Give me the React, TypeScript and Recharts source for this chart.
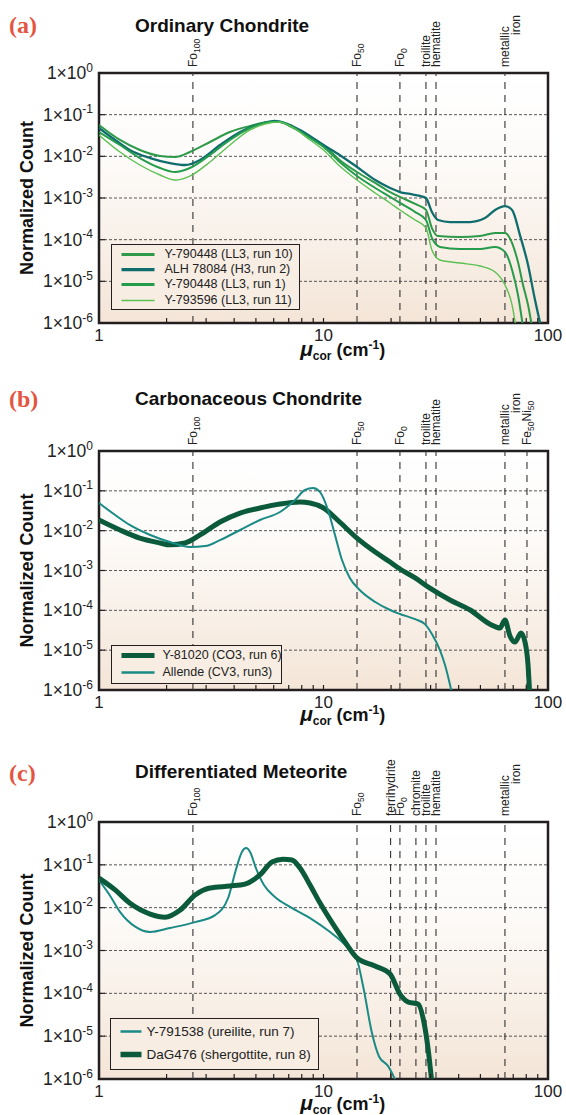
import React from "react";
import {
  LineChart,
  Line,
  XAxis,
  YAxis,
  CartesianGrid,
  ReferenceLine,
  ReferenceArea,
  Legend,
} from "recharts";

type Pt = { x: number; v: number };
const pts = (rows: number[][]): Pt[] => rows.map(([x, v]) => ({ x, v }));

// ---- (a) Ordinary Chondrite ----
const aY790448r10 = pts([
  [1, 5.65e-2], [1.24, 2.47e-2], [1.52, 1.42e-2], [1.87, 1.02e-2], [2.18, 9.6e-3],
  [2.54, 1.27e-2], [3.12, 2.21e-2], [3.83, 3.84e-2], [4.71, 5.35e-2], [5.78, 6.67e-2],
  [6.4, 6.67e-2], [7.09, 5.35e-2], [8.71, 2.91e-2], [10, 1.87e-2], [11.8, 8.2e-3],
  [14.1, 4.2e-3], [17, 2.3e-3], [19.8, 1.39e-3], [21.9, 1.06e-3], [25.6, 7.2e-4],
  [28.6, 5.2e-4], [30.4, 1.9e-4], [32.4, 1.22e-4], [40.5, 1.16e-4], [49.8, 1.22e-4],
  [58.1, 1.45e-4], [64.3, 1.45e-4], [69.2, 8.3e-5], [73.5, 2.9e-5], [77.4, 8.2e-6],
  [81.5, 2.7e-6], [84.9, 8e-7],
]);
const aALH78084 = pts([
  [1, 4.79e-2], [1.18, 2.47e-2], [1.37, 1.42e-2], [1.69, 9.1e-3], [2.07, 6.9e-3],
  [2.42, 6.2e-3], [2.82, 8.2e-3], [3.46, 1.87e-2], [4.25, 3.84e-2], [5.21, 5.97e-2],
  [6.08, 7.05e-2], [6.74, 6.3e-2], [7.86, 4.29e-2], [10, 1.87e-2], [11.8, 1.08e-2],
  [14.1, 5.55e-3], [17, 2.7e-3], [19.8, 1.74e-3], [21.9, 1.39e-3], [24.3, 1.25e-3],
  [26.9, 1.12e-3], [28.6, 1.0e-3], [30.4, 4.6e-4], [32.4, 2.96e-4], [36.6, 2.65e-4],
  [45, 2.65e-4], [52.4, 3.3e-4], [58.1, 5.15e-4], [64.3, 6.4e-4], [69.2, 5.15e-4],
  [75, 1.29e-4], [81.5, 2.47e-5], [87.5, 3.6e-6], [93.1, 8e-7],
]);
const aY790448r1 = pts([
  [1, 3.84e-2], [1.24, 1.87e-2], [1.52, 9.1e-3], [1.87, 5.25e-3], [2.18, 4.2e-3],
  [2.54, 5.25e-3], [3.12, 1.08e-2], [3.83, 2.47e-2], [4.71, 4.79e-2], [5.78, 6.67e-2],
  [6.4, 6.67e-2], [7.09, 5.35e-2], [8.71, 2.75e-2], [10, 1.68e-2], [11.8, 7.3e-3],
  [14.1, 3.37e-3], [17, 1.74e-3], [19.8, 1.06e-3], [21.9, 7.6e-4], [25.6, 4.6e-4],
  [28.6, 2.96e-4], [30.4, 1.1e-4], [33, 6.7e-5], [40.5, 6e-5], [49.8, 6e-5],
  [58.1, 6.7e-5], [64.3, 5.1e-5], [69.2, 1.87e-5], [73.5, 4.7e-6], [77.4, 8e-7],
]);
const aY793596 = pts([
  [1, 3.25e-2], [1.24, 1.27e-2], [1.52, 6.2e-3], [1.87, 3.56e-3], [2.18, 2.7e-3],
  [2.54, 3.37e-3], [3.12, 7.3e-3], [3.83, 1.87e-2], [4.71, 4.29e-2], [5.49, 5.97e-2],
  [6.27, 6.67e-2], [7.09, 5.35e-2], [8.71, 2.47e-2], [10, 1.42e-2], [11.8, 5.86e-3],
  [14.1, 2.7e-3], [17, 1.32e-3], [19.8, 7.6e-4], [21.9, 5.15e-4], [25.6, 2.96e-4],
  [28.6, 1.91e-4], [30.4, 5.65e-5], [33, 3.25e-5], [40.5, 2.75e-5], [49.8, 2.33e-5],
  [58.1, 1.67e-5], [64.3, 8.2e-6], [69.2, 2.7e-6], [72, 8e-7],
]);

// ---- (b) Carbonaceous Chondrite ----
const bY81020 = pts([
  [1, 1.85e-2], [1.24, 1.04e-2], [1.52, 6.5e-3], [1.87, 4.9e-3], [2.07, 4.4e-3],
  [2.42, 4.9e-3], [2.82, 7.8e-3], [3.46, 1.65e-2], [4.25, 2.77e-2], [5.21, 3.7e-2],
  [6.4, 4.67e-2], [7.86, 5.25e-2], [8.71, 4.95e-2], [10, 3.71e-2], [11.8, 1.65e-2],
  [14.1, 6.5e-3], [17, 2.9e-3], [19.8, 1.63e-3], [21.9, 1.09e-3], [25.6, 6.5e-4],
  [29.8, 3.6e-4], [36.6, 1.82e-4], [45, 1.02e-4], [55.2, 4.5e-5], [61.1, 3.6e-5],
  [64.3, 5.7e-5], [67.7, 2.27e-5], [71.3, 1.6e-5], [75.8, 2.7e-5], [79, 1.6e-5],
  [81.5, 4.2e-6], [83.2, 5e-7],
]);
const bAllende = pts([
  [1, 4.95e-2], [1.18, 2.47e-2], [1.37, 1.39e-2], [1.69, 7.8e-3], [2.07, 5.2e-3],
  [2.54, 3.9e-3], [2.97, 4.1e-3], [3.46, 5.8e-3], [4.25, 1.04e-2], [5.21, 1.85e-2],
  [6.4, 2.94e-2], [7.47, 5.9e-2], [8.27, 1.05e-1], [8.98, 1.17e-1], [9.65, 9.3e-2],
  [10.47, 3.3e-2], [11.25, 7.8e-3], [12.09, 1.83e-3], [13.1, 6.5e-4], [14.5, 3.24e-4],
  [17, 1.62e-4], [19.8, 1.02e-4], [21.9, 8.1e-5], [25.6, 6e-5], [28.3, 4.5e-5],
  [30.4, 2.54e-5], [33, 1e-5], [34.8, 4.2e-6], [37.4, 8e-7],
]);

// ---- (c) Differentiated Meteorite ----
const cY791538 = pts([
  [1, 4.4e-2], [1.12, 1.9e-2], [1.24, 8e-3], [1.45, 3.6e-3], [1.69, 2.7e-3],
  [2.07, 3.35e-3], [2.68, 4.6e-3], [3.29, 6.7e-3], [3.76, 1.68e-2], [4.07, 7.6e-2],
  [4.33, 2.0e-1], [4.52, 2.47e-1], [4.71, 2.0e-1], [5.0, 8.4e-2], [5.43, 3.38e-2],
  [6.08, 1.77e-2], [7.09, 1.04e-2], [8.71, 5.7e-3], [10.7, 2.7e-3], [12.5, 1.34e-3],
  [14.1, 6e-4], [15.1, 1.26e-4], [16.4, 1.25e-5], [17.7, 3.3e-6], [19.4, 2e-6],
  [21.2, 8e-7],
]);
const cDaG476 = pts([
  [1, 4.9e-2], [1.18, 2.6e-2], [1.37, 1.28e-2], [1.69, 7.1e-3], [1.97, 6.0e-3],
  [2.3, 8.8e-3], [2.68, 1.98e-2], [3.12, 2.88e-2], [3.83, 3.2e-2], [4.47, 3.56e-2],
  [5.21, 5.8e-2], [5.9, 1.16e-1], [6.6, 1.35e-1], [7.24, 1.3e-1], [7.86, 8.4e-2],
  [8.71, 3.38e-2], [9.65, 1.28e-2], [11.25, 3.5e-3], [12.47, 1.58e-3], [14.1, 6.7e-4],
  [16.96, 4.35e-4], [19.8, 2.83e-4], [21.9, 9.6e-5], [23.8, 6.3e-5], [26.4, 5.6e-5],
  [28, 2.14e-5], [29.2, 5.3e-6], [30.4, 8e-7],
]);

// reference mineral positions (cm-1)
const refsA = [
  { x: 2.62, text: "Fo_{100}" },
  { x: 14.1, text: "Fo_{50}" },
  { x: 21.9, text: "Fo_{0}" },
  { x: 28.6, text: "troilite" },
  { x: 31.7, text: "hematite" },
  { x: 64.3, text: "metallic", text2: "iron" },
];
const refsB = [...refsA, { x: 80.6, text: "Fe_{50}Ni_{50}" }];
const refsC = [
  { x: 2.62, text: "Fo_{100}" },
  { x: 14.1, text: "Fo_{50}" },
  { x: 19.9, text: "ferrihydrite" },
  { x: 21.9, text: "Fo_{0}" },
  { x: 25.8, text: "chromite" },
  { x: 28.6, text: "troilite" },
  { x: 31.7, text: "hematite" },
  { x: 64.3, text: "metallic", text2: "iron" },
];

const xTicks = [1, 2, 3, 4, 5, 6, 7, 8, 9, 10, 20, 30, 40, 50, 60, 70, 80, 90, 100];
const xLabels = [1, 10, 100];
const yTicks = [1, 1e-1, 1e-2, 1e-3, 1e-4, 1e-5, 1e-6];

const FONT = "'Liberation Sans', Arial, Helvetica, sans-serif";
const INK = "#231f20";
const GREEN = "#2c9a48";
const GREEN2 = "#239c4b";
const LIGHT = "#5cc052";
const TEAL = "#0f6e6d";
const TEAL2 = "#1a8a84";
const DARK = "#0b5a3c";

type Series = { name: string; data: Pt[]; color: string; width: number; legendWidth: number };

const panels = [
  {
    key: "a",
    top: 0,
    height: 370,
    margin: { top: 73, right: 18, bottom: 17, left: 0 },
    tag: "(a)",
    title: "Ordinary Chondrite",
    tagTop: 13,
    titleTop: 15,
    xLabelDy: 33,
    refs: refsA,
    series: [
      { name: "Y-790448 (LL3, run 10)", data: aY790448r10, color: GREEN, width: 2, legendWidth: 3 },
      { name: "ALH 78084 (H3, run 2)", data: aALH78084, color: TEAL, width: 2.3, legendWidth: 3.2 },
      { name: "Y-790448 (LL3, run 1)", data: aY790448r1, color: GREEN2, width: 2, legendWidth: 3 },
      { name: "Y-793596 (LL3, run 11)", data: aY793596, color: LIGHT, width: 1.4, legendWidth: 1.5 },
    ] as Series[],
    legend: { left: 111, top: 244, width: 189, height: 66, rowH: 15.2, padTop: 2, l0: 9.5, l1: 42.5, tx: 52.5, fs: 12.5 },
  },
  {
    key: "b",
    top: 370,
    height: 375,
    margin: { top: 81, right: 18, bottom: 25, left: 0 },
    tag: "(b)",
    title: "Carbonaceous Chondrite",
    tagTop: 387,
    titleTop: 388,
    xLabelDy: 31,
    refs: refsB,
    series: [
      { name: "Y-81020 (CO3, run 6)", data: bY81020, color: DARK, width: 5, legendWidth: 5 },
      { name: "Allende (CV3, run3)", data: bAllende, color: TEAL2, width: 2, legendWidth: 2.5 },
    ] as Series[],
    legend: { left: 111, top: 275, width: 171, height: 39, rowH: 17, padTop: 1, l0: 9.5, l1: 42.5, tx: 50.5, fs: 12.5 },
  },
  {
    key: "c",
    top: 745,
    height: 370,
    margin: { top: 77, right: 18, bottom: 6, left: 0 },
    tag: "(c)",
    title: "Differentiated Meteorite",
    tagTop: 761,
    titleTop: 761,
    xLabelDy: 30.5,
    refs: refsC,
    series: [
      { name: "Y-791538 (ureilite, run 7)", data: cY791538, color: TEAL2, width: 2, legendWidth: 2.5 },
      { name: "DaG476 (shergottite, run 8)", data: cDaG476, color: DARK, width: 5, legendWidth: 5.5 },
    ] as Series[],
    legend: { left: 110, top: 273, width: 209, height: 52, rowH: 23, padTop: 1, l0: 9.5, l1: 30.5, tx: 35.5, fs: 13.5 },
  },
];

function richText(s: string, subSize: number) {
  const parts = s.split(/(_\{[^}]*\})/).filter(Boolean);
  let shifted = false;
  return parts.map((p, i) => {
    if (p.startsWith("_{")) {
      shifted = true;
      return (
        <tspan key={i} dy={3} fontSize={subSize}>
          {p.slice(2, -1)}
        </tspan>
      );
    }
    const dy = shifted ? -3 : 0;
    shifted = false;
    return (
      <tspan key={i} dy={dy}>
        {p}
      </tspan>
    );
  });
}

function RefLabel(props: any) {
  const vb = props.viewBox || { x: 0, y: 0 };
  const x = vb.x + 4.5;
  const y = vb.y - 6;
  return (
    <g>
      <text
        transform={`translate(${x},${y}) rotate(-90)`}
        fontSize={12}
        fill="#222"
        fontFamily={FONT}
      >
        {richText(props.text, 8.5)}
      </text>
      {props.text2 && (
        <text
          transform={`translate(${x + 11},${y - 32}) rotate(-90)`}
          fontSize={12}
          fill="#222"
          fontFamily={FONT}
        >
          {props.text2}
        </text>
      )}
    </g>
  );
}

function YTick(props: any) {
  const { x, y, payload } = props;
  const exp = Math.round(Math.log10(payload.value));
  return (
    <g>
      <line x1={x} x2={x + 6} y1={y} y2={y} stroke={INK} strokeWidth={1.2} />
      <text x={x - 6} y={y + 6} textAnchor="end" fontSize={17.5} fill="#222" fontFamily={FONT}>
        1×10
        <tspan dy={-7.5} fontSize={12}>
          {exp}
        </tspan>
      </text>
    </g>
  );
}

function XTick(props: any) {
  const { x, y, payload } = props;
  const v = payload.value;
  const major = xLabels.includes(v);
  return (
    <g>
      {v !== 1 && v !== 100 && (
        <line x1={x} x2={x} y1={y} y2={y - 5} stroke={INK} strokeWidth={1.2} />
      )}
      {major && (
        <text x={x} y={y + 18} textAnchor="middle" fontSize={17} fill="#222" fontFamily={FONT}>
          {v}
        </text>
      )}
    </g>
  );
}

function XLabel(props: any) {
  const vb = props.viewBox || { x: 99, y: 0, width: 449 };
  const x = vb.x + vb.width * 0.448;
  const y = vb.y + props.dyBase;
  return (
    <text x={x} y={y} fontFamily={FONT} fontWeight="bold" fontSize={18} fill="#111">
      <tspan fontStyle="italic" fontSize={21}>
        μ
      </tspan>
      <tspan fontSize={12} dy={4}>
        cor
      </tspan>
      <tspan dy={-4}> (cm</tspan>
      <tspan fontSize={12} dy={-7}>
        -1
      </tspan>
      <tspan dy={7}>)</tspan>
    </text>
  );
}

function YLabel(props: any) {
  const vb = props.viewBox || { x: 0, y: 0, width: 99, height: 0 };
  const cy = vb.y + vb.height / 2;
  return (
    <text
      transform={`translate(33,${cy}) rotate(-90)`}
      textAnchor="middle"
      fontFamily={FONT}
      fontWeight="bold"
      fontSize={18}
      fill="#111"
    >
      Normalized Count
    </text>
  );
}

function LegendBox({ items, cfg }: { items: Series[]; cfg: any }) {
  return (
    <div
      style={{
        width: cfg.width,
        height: cfg.height,
        boxSizing: "border-box",
        border: `1.5px solid ${INK}`,
        background: "#f7ede3",
        paddingTop: cfg.padTop,
        fontFamily: FONT,
      }}
    >
      {items.map((s) => (
        <div key={s.name} style={{ height: cfg.rowH, position: "relative" }}>
          <svg width={cfg.l1 + 2} height={cfg.rowH} style={{ position: "absolute", left: 0, top: 0 }}>
            <line
              x1={cfg.l0}
              x2={cfg.l1}
              y1={cfg.rowH / 2}
              y2={cfg.rowH / 2}
              stroke={s.color}
              strokeWidth={s.legendWidth}
            />
          </svg>
          <span
            style={{
              position: "absolute",
              left: cfg.tx,
              top: 0,
              fontSize: cfg.fs,
              lineHeight: `${cfg.rowH}px`,
              color: "#222",
              whiteSpace: "nowrap",
            }}
          >
            {s.name}
          </span>
        </div>
      ))}
    </div>
  );
}

function Panel({ p }: { p: (typeof panels)[number] }) {
  const gid = `bg-${p.key}`;
  return (
    <div style={{ position: "absolute", left: 0, top: p.top, width: 566, height: p.height }}>
      <LineChart width={566} height={p.height} margin={p.margin}>
        <defs>
          <linearGradient id={gid} x1="0" y1="0" x2="0" y2="1">
            <stop offset="0%" stopColor="#ffffff" />
            <stop offset="35%" stopColor="#fdfbf9" />
            <stop offset="100%" stopColor="#f4e5d7" />
          </linearGradient>
        </defs>
        <CartesianGrid
          vertical={false}
          stroke="#444"
          strokeWidth={0.9}
          strokeDasharray="3 2"
          fill={`url(#${gid})`}
          fillOpacity={1}
        />
        <XAxis
          dataKey="x"
          type="number"
          scale="log"
          domain={[1, 100]}
          allowDataOverflow
          ticks={xTicks}
          interval={0}
          height={30}
          axisLine={false}
          tickLine={false}
          tickSize={0}
          tickMargin={0}
          tick={<XTick />}
          label={<XLabel dyBase={p.xLabelDy} />}
        />
        <YAxis
          type="number"
          scale="log"
          domain={[1e-6, 1]}
          allowDataOverflow
          ticks={yTicks}
          interval={0}
          width={99}
          axisLine={false}
          tickLine={false}
          tickSize={0}
          tickMargin={0}
          tick={<YTick />}
          label={<YLabel />}
        />
        {p.refs.map((r) => (
          <ReferenceLine
            key={r.text}
            x={r.x}
            stroke="#333"
            strokeWidth={1.1}
            strokeDasharray="7 6"
            label={<RefLabel text={r.text} text2={(r as any).text2} />}
          />
        ))}
        {p.series.map((s) => (
          <Line
            key={s.name}
            data={s.data}
            dataKey="v"
            name={s.name}
            type="monotone"
            stroke={s.color}
            strokeWidth={s.width}
            strokeLinejoin="round"
            dot={false}
            activeDot={false}
            isAnimationActive={false}
          />
        ))}
        <ReferenceArea
          x1={1}
          x2={100}
          y1={1e-6}
          y2={1}
          fill="none"
          fillOpacity={0}
          stroke={INK}
          strokeWidth={2.5}
          ifOverflow="visible"
        />
        <Legend
          layout="horizontal"
          align="center"
          verticalAlign="middle"
          wrapperStyle={{
            left: p.legend.left,
            top: p.legend.top,
            width: p.legend.width,
            height: p.legend.height,
          }}
          content={() => <LegendBox items={p.series} cfg={p.legend} />}
        />
      </LineChart>
      <div
        style={{
          position: "absolute",
          left: 9,
          top: p.tagTop - p.top,
          font: "bold 24px 'Liberation Serif', 'Times New Roman', serif",
          lineHeight: "24px",
          color: "#e4553f",
        }}
      >
        {p.tag}
      </div>
      <div
        style={{
          position: "absolute",
          left: 135,
          top: p.titleTop - p.top,
          fontFamily: FONT,
          fontWeight: "bold",
          fontSize: 19,
          lineHeight: "22px",
          color: "#111",
          whiteSpace: "nowrap",
        }}
      >
        {p.title}
      </div>
    </div>
  );
}

export default function App() {
  return (
    <div
      style={{
        position: "absolute",
        left: 0,
        top: 0,
        width: 566,
        height: 1115,
        background: "#ffffff",
        overflow: "hidden",
      }}
    >
      {panels.map((p) => (
        <Panel key={p.key} p={p} />
      ))}
    </div>
  );
}
